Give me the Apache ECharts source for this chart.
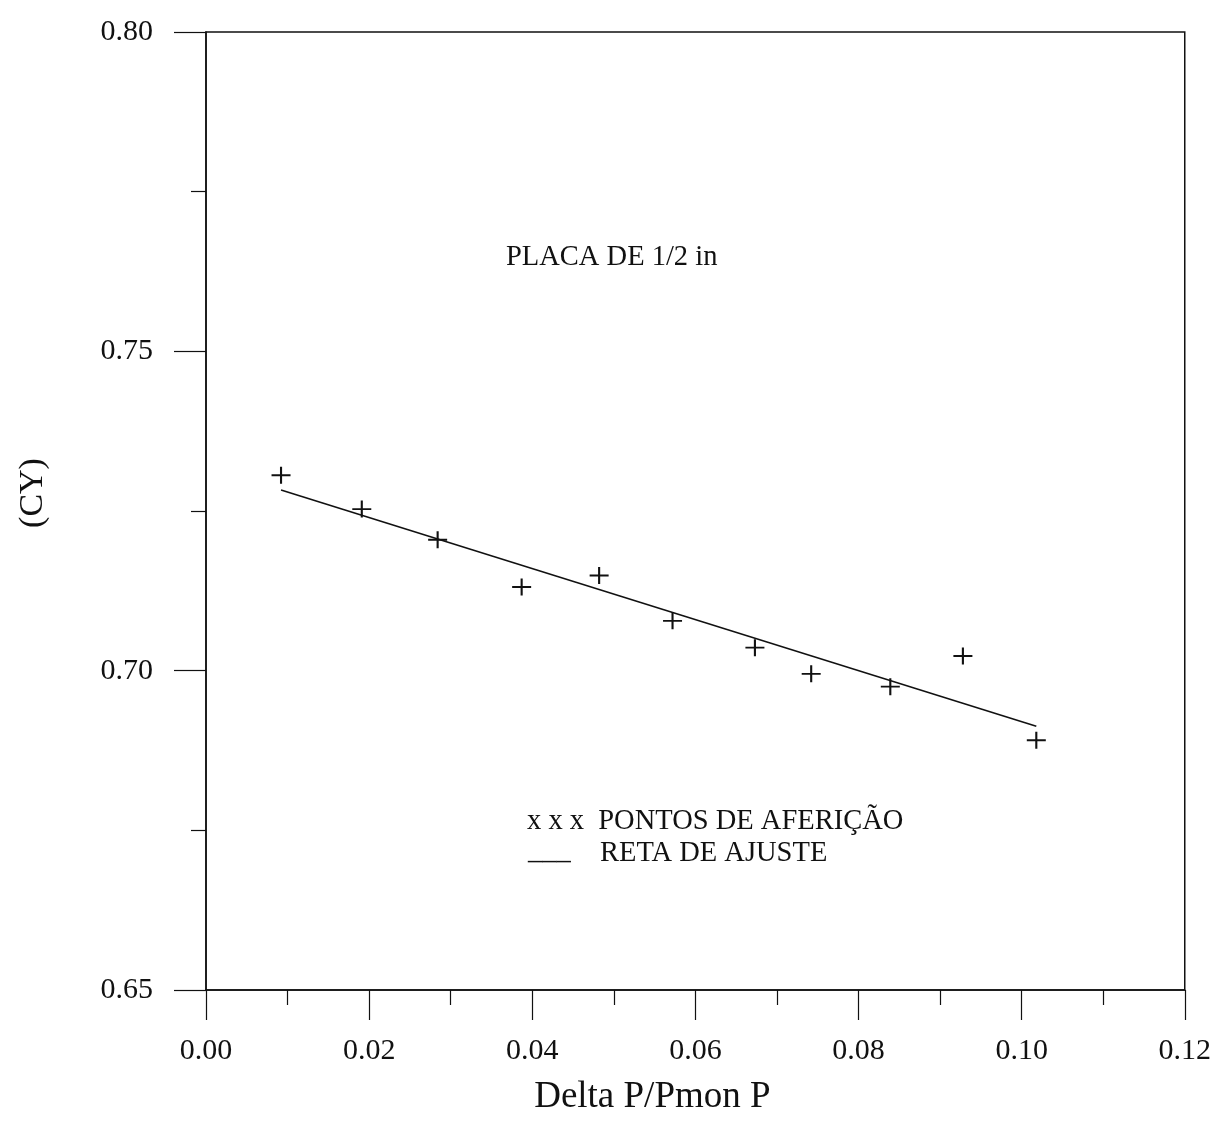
<!DOCTYPE html>
<html>
<head>
<meta charset="utf-8">
<title>CY x Delta P/Pmon P</title>
<script src="https://cdn.jsdelivr.net/npm/echarts@6/dist/echarts.min.js"></script>
<style>
  html, body { margin: 0; padding: 0; background: #fff; }
  #chart { width: 1214px; height: 1127px; }
</style>
</head>
<body>
<div id="chart"></div>
<script>
// Calibration points (Delta P / Pmon P, CY)
var deltaP = [0.0092, 0.0191, 0.0284, 0.0387, 0.0482, 0.0572, 0.0673, 0.0742, 0.0839, 0.0928, 0.1018];
var cyValues = [0.7306, 0.7253, 0.7205, 0.7131, 0.7149, 0.7078, 0.7036, 0.6995, 0.6975, 0.7023, 0.6891];

// Fitted straight line, end points
var fitX = [0.0092, 0.1018];
var fitY = [0.7283, 0.6913];

// Axis ranges and tick steps
var xRange = [0, 0.12];
var xStep = 0.02;
var yRange = [0.65, 0.80];
var yStep = 0.05;

var xTitle = 'Delta P/Pmon P';
var yTitle = '(CY)';
var plateLabel = 'PLACA DE 1/2 in';
var pointsLabel = 'x x x  PONTOS DE AFERIÇÃO';
var lineMark = '___';
var lineLabel = 'RETA DE AJUSTE';

var serif = '"Liberation Serif", "Times New Roman", "DejaVu Serif", serif';
var ink = '#111';

var pointData = deltaP.map(function (x, i) { return [x, cyValues[i]]; });
var fitData = fitX.map(function (x, i) { return [x, fitY[i]]; });

var chart = echarts.init(document.getElementById('chart'), null, { renderer: 'canvas' });

chart.setOption({
  backgroundColor: '#fff',
  animation: false,
  grid: {
    left: 206, right: 29, top: 32, bottom: 137,
    show: true, borderColor: ink, borderWidth: 1.5, backgroundColor: 'transparent'
  },
  xAxis: {
    type: 'value',
    min: xRange[0], max: xRange[1], interval: xStep,
    name: xTitle,
    nameLocation: 'middle',
    nameGap: 89,
    nameTextStyle: { fontFamily: serif, fontSize: 37, color: ink, padding: [0, 86, 0, 0] },
    axisLine: { show: true, lineStyle: { color: ink, width: 1.5 } },
    axisTick: { show: true, inside: false, length: 30, lineStyle: { color: ink, width: 1.2 } },
    minorTick: { show: true, splitNumber: 2, length: 15, lineStyle: { color: ink, width: 1.2 } },
    splitLine: { show: false },
    axisLabel: {
      margin: 46, fontFamily: serif, fontSize: 30, color: ink,
      formatter: function (v) { return v.toFixed(2); }
    }
  },
  yAxis: {
    type: 'value',
    min: yRange[0], max: yRange[1], interval: yStep,
    name: yTitle,
    nameLocation: 'middle',
    nameGap: 156,
    nameTextStyle: { fontFamily: serif, fontSize: 34, color: ink, padding: [0, 0, 0, 36] },
    axisLine: { show: true, lineStyle: { color: ink, width: 1.5 } },
    axisTick: { show: true, inside: false, length: 32, lineStyle: { color: ink, width: 1.2 } },
    minorTick: { show: true, splitNumber: 2, length: 15, lineStyle: { color: ink, width: 1.2 } },
    splitLine: { show: false },
    axisLabel: {
      margin: 53, fontFamily: serif, fontSize: 30, color: ink,
      formatter: function (v) { return v.toFixed(2); }
    }
  },
  series: [
    {
      name: 'RETA DE AJUSTE',
      type: 'line',
      data: fitData,
      showSymbol: false,
      symbol: 'none',
      lineStyle: { color: ink, width: 1.6 },
      z: 2
    },
    {
      name: 'PONTOS DE AFERIÇÃO',
      type: 'scatter',
      data: pointData,
      symbol: 'path://M-1,-9H1V9H-1Z M-9,-1H9V1H-9Z',
      symbolSize: [19, 17],
      itemStyle: { color: ink, opacity: 1 },
      z: 3
    }
  ],
  graphic: [
    {
      type: 'text', left: 506, top: 243,
      style: { text: plateLabel, font: '28.5px ' + serif, fill: ink }
    },
    {
      type: 'text', left: 527, top: 807,
      style: { text: pointsLabel, font: '28.5px ' + serif, fill: ink }
    },
    {
      type: 'text', left: 528, top: 837,
      style: { text: lineMark, font: '28.5px ' + serif, fill: ink }
    },
    {
      type: 'text', left: 600, top: 839,
      style: { text: lineLabel, font: '28.5px ' + serif, fill: ink }
    }
  ]
});
</script>
</body>
</html>
